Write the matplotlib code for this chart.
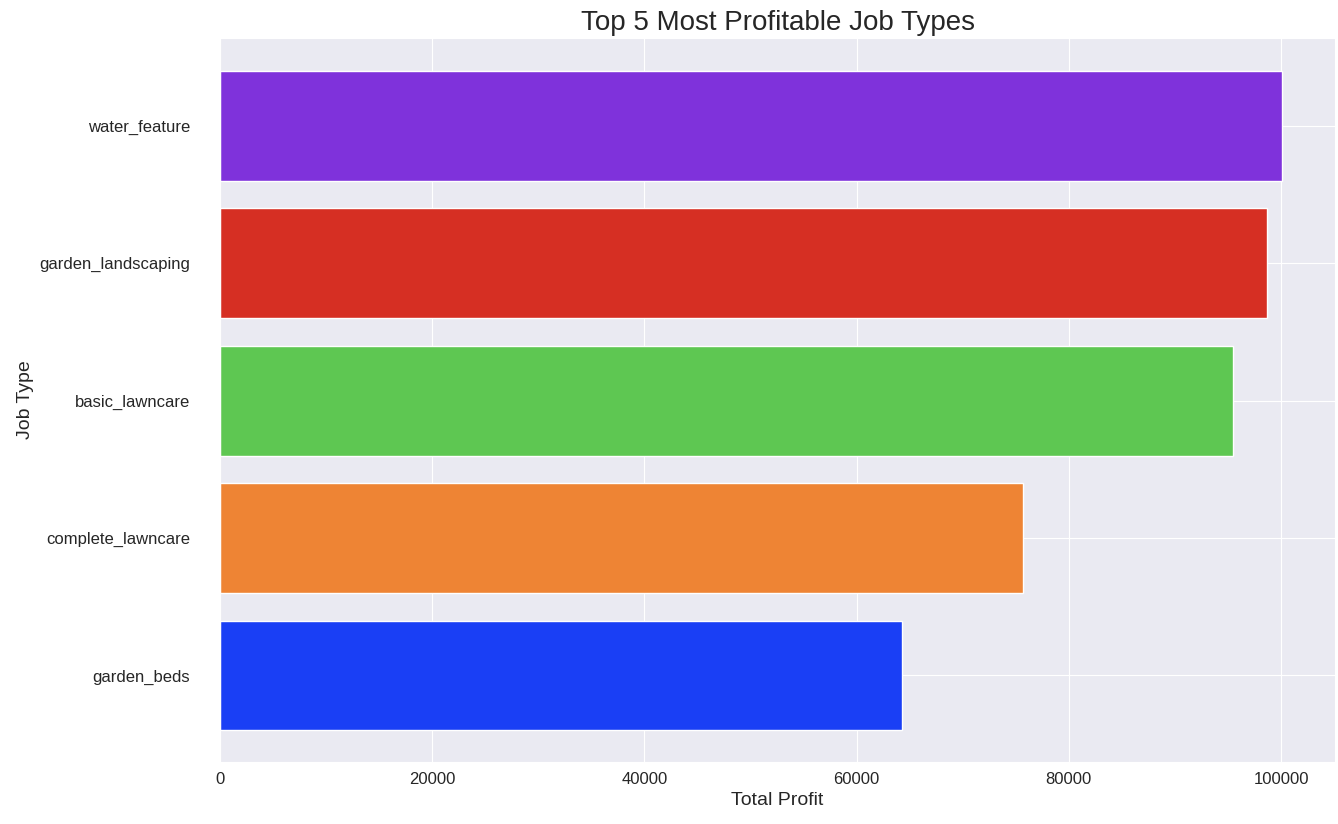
import matplotlib
matplotlib.use("Agg")
import matplotlib.pyplot as plt
import seaborn as sns

sns.set_style("darkgrid")
plt.rcParams["font.family"] = "Liberation Sans"

job_types = ["garden_beds", "complete_lawncare", "basic_lawncare", "garden_landscaping", "water_feature"]
profits = [64300, 75700, 95500, 98700, 100100]
colors = ["#1a3ff5", "#ee8434", "#5ec752", "#d62f23", "#7f32db"]

fig = plt.figure(figsize=(13.38, 8.24), dpi=100)
ax = fig.add_axes([0.1644, 0.0752, 0.8334, 0.8787])
ax.barh(job_types, profits, height=0.8, color=colors)
ax.set_ylim(-0.63, 4.64)
ax.set_xlim(0, 105090)
ax.set_title("Top 5 Most Profitable Job Types", fontsize=20)
ax.set_xlabel("Total Profit", fontsize=14)
ax.set_ylabel("Job Type", fontsize=14)
ax.tick_params(labelsize=12)
ax.tick_params(axis="y", pad=18)
fig.savefig("out.png", dpi=100)
